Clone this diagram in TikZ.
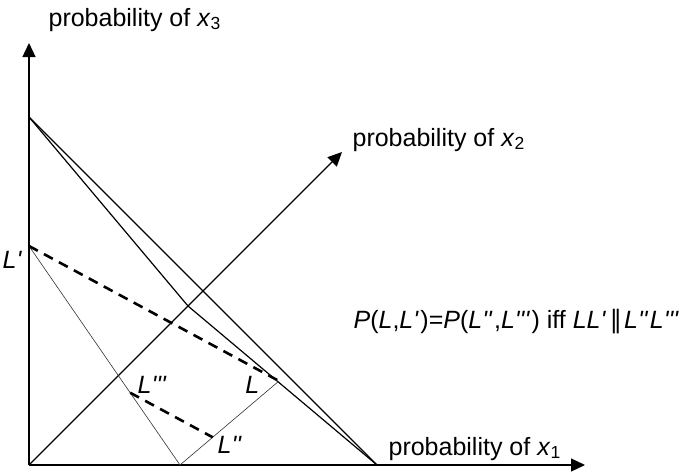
\documentclass[tikz,border=0pt]{standalone}
\usepackage{fontspec}
\setmainfont{Liberation Sans}[Ligatures=TeXOff]
\newfontfamily\symbfont{DejaVu Sans}
\usepackage{tikz}
\usetikzlibrary{arrows.meta, calc}

\tikzset{
    lbl/.style={inner sep=0pt, anchor=base west},
    thinline/.style={line width=0.3pt, black!80},
    dashline/.style={line width=1.3pt, dash pattern=on 5pt off 3.5pt}
}
\newcommand{\lot}[1]{\textit{L#1}\kern0.8pt}

\begin{document}
\begin{tikzpicture}[x=0.5pt, y=0.5pt, >={Triangle[length=7pt,width=6.5pt]}, line width=0.6pt, font=\fontsize{12.5}{15}\selectfont]
    \useasboundingbox (-29,-8) rectangle (657,465);

    % axes
    \coordinate (O) at (0,0);
    \coordinate (X1) at (556,0);
    \coordinate (X2) at (313,313);
    \coordinate (X3) at (0,422);
    \draw[->] (O) -- (X1);
    \draw[->] (O) -- (X2);
    \draw[->] (O) -- (X3);
    \node[lbl] (p1) at (359,10) {probability of \textit{x}\textsubscript{1}};
    \node[lbl] (p2) at (323,319) {probability of \textit{x}\textsubscript{2}};
    \node[lbl] (p3) at (19,439) {probability of \textit{x}\textsubscript{3}};

    % simplex
    \coordinate (E1) at (348,0);
    \coordinate (E2) at (159,159);
    \coordinate (E3) at (0,348);
    \draw (E3) -- (E1);
    \draw (E3) -- (E2) -- (E1);

    % lotteries
    \coordinate (Lp) at (0,219);
    \coordinate (L) at (250,84);
    \coordinate (M) at (151,0);
    \coordinate (Lppp) at ($(M)!0.33!(Lp)$);
    \coordinate (Lpp) at ($(M)!0.33!(L)$);
    \draw[thinline] (Lp) -- (M) -- (L);
    \draw[dashline] (Lp) -- (L);
    \draw[dashline] (Lppp) -- (Lpp);

    \node[lbl, anchor=base east] (lLp) at (-7,197) {\itshape L'};
    \node[lbl, anchor=base east] (lL) at (231,72) {\itshape L};
    \node[lbl] (lLppp) at (108,72) {\itshape L'''};
    \node[lbl] (lLpp) at (188,12) {\itshape L''};

    \node[lbl] (rule) at (324,137) {\textit{P}(\textit{L},\lot{'})=\textit{P}(\lot{''},\lot{'''}) iff \textit{L}\lot{'}\kern1pt{\symbfont ∥}\kern1pt\lot{''}\lot{'''}};
\end{tikzpicture}
\end{document}
